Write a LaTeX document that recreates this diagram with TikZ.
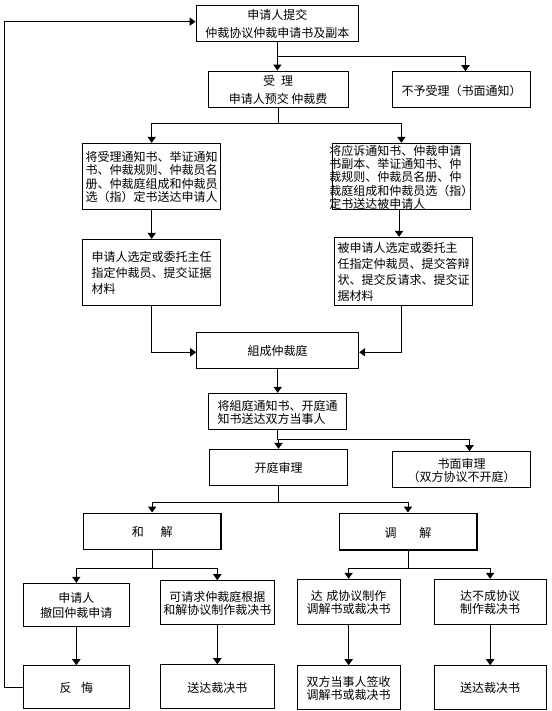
\documentclass[tikz,border=0pt]{standalone}
\usepackage{fontspec}
\newfontfamily\cjk{Noto Sans CJK SC}
\usetikzlibrary{arrows.meta,fit}
\begin{document}
\begin{tikzpicture}[x=0.75pt,y=-0.75pt,
  box/.style={draw, line width=0.75pt, fill=white, inner sep=0pt},
  boldbox/.style={box, line width=1.2pt},
  txt/.style={inner sep=0pt, align=center, yshift=-0.6pt, font=\cjk\fontsize{9}{13.5}\selectfont},
  tight/.style={font=\cjk\fontsize{9}{10}\selectfont},
  mid/.style={font=\cjk\fontsize{9}{12}\selectfont},
  arr/.style={line width=0.75pt, -{Triangle[length=4.5pt,width=6.2pt]}}]
\useasboundingbox[fill=white] (0,0) rectangle (551,711);

% boxes
\node[box, fit={(196,5.3) (358.7,41.7)}] (A) {};
\node[box, fit={(208.3,71) (348,107)}] (B) {};
\node[box, fit={(392.3,71.7) (530.7,107.7)}] (C) {};
\node[box, fit={(82.7,143.3) (220.7,209.3)}] (D) {};
\node[box, fit={(332.7,143.3) (470,209.3)}] (E) {};
\node[box, fit={(82.7,239.3) (220.7,305.3)}] (F) {};
\node[box, fit={(334.7,237.3) (472.3,305.3)}] (G) {};
\node[box, fit={(196.7,332.3) (358.7,368.3)}] (H) {};
\node[box, fit={(208.3,393.3) (346.7,429.3)}] (I) {};
\node[box, fit={(209.3,449.3) (347.7,485.3)}] (J) {};
\node[box, fit={(392.3,451.7) (530.7,487.7)}] (K) {};
\node[boldbox, fit={(83.3,513.3) (221,549.3)}] (L) {};
\node[boldbox, fit={(339.3,513.3) (476.7,550)}] (M) {};
\node[box, fit={(23.3,583.3) (129.3,626)}] (N) {};
\node[box, fit={(160.3,580.7) (274.3,624)}] (O) {};
\node[box, fit={(297.3,579.3) (400,624.3)}] (P) {};
\node[box, fit={(434.3,579.3) (546,624.3)}] (Q) {};
\node[box, fit={(23.3,665.7) (129.3,708.7)}] (R) {};
\node[box, fit={(160.3,664.7) (274.3,708.7)}] (S) {};
\node[box, fit={(297.3,665.7) (400,709.3)}] (T) {};
\node[box, fit={(434.3,665.7) (546,709.3)}] (U) {};

% texts
\node[txt] (At) at (A.center) {申请人提交\\仲裁协议仲裁申请书及副本};
\node[txt, font=\cjk\fontsize{9}{13}\selectfont] (Bt) at (B.center) {受\hspace{0.5em}理\\申请人预交 仲裁费};
\node[txt] (Ct) at (C.center) {不予受理（书面通知）};
\node[txt, tight, align=left] (Dt) at (D.center) {将受理通知书、举证通知\\书、仲裁规则、仲裁员名\\册、仲裁庭组成和仲裁员\\选（指）定书送达申请人};
\node[txt, tight, align=left] (Et) at (E.center) {将应诉通知书、仲裁申请\\书副本、举证通知书、仲\\裁规则、仲裁员名册、仲\\裁庭组成和仲裁员选（指）\\定书送达被申请人};
\node[txt, mid, align=left] (Ft) at (F.center) {申请人选定或委托主任\\指定仲裁员、提交证据\\材料};
\node[txt, mid, align=left] (Gt) at (G.center) {被申请人选定或委托主\\任指定仲裁员、提交答辩\\状、提交反请求、提交证\\据材料};
\node[txt] (Ht) at (H.center) {組成仲裁庭};
\node[txt, tight, align=left] (It) at (I.center) {将組庭通知书、开庭通\\知书送达双方当事人};
\node[txt] (Jt) at (J.center) {开庭审理};
\node[txt, tight] (Kt) at (K.center) {书面审理\\（双方协议不开庭）};
\node[txt] (Lt) at (L.center) {和\hspace{1.4em}解};
\node[txt] (Mt) at (M.center) {调\hspace{1.9em}解};
\node[txt, font=\cjk\fontsize{9}{11.5}\selectfont] (Nt) at (N.center) {申请人\\撤回仲裁申请};
\node[txt, tight] (Ot) at (O.center) {可请求仲裁庭根据\\和解协议制作裁决书};
\node[txt, tight] (Pt) at (P.center) {达\hspace{0.3em}成协议制作\\调解书或裁决书};
\node[txt, tight] (Qt) at (Q.center) {达不成协议\\制作裁决书};
\node[txt] (Rt) at (R.center) {反\hspace{0.8em}悔};
\node[txt] (St) at (S.center) {送达裁决书};
\node[txt, tight] (Tt) at (T.center) {双方当事人签收\\调解书或裁决书};
\node[txt] (Ut) at (U.center) {送达裁决书};

% connectors
\draw[arr] (A.south) -- (A.south |- B.north);
\draw[arr] (A.south) -- ++(0,14.3) -| ([xshift=3pt]C.north);
\draw[arr] (B.south) -- ++(0,16.3) -| (D.north);
\draw[arr] (B.south) -- ++(0,16.3) -| (E.north);
\draw[arr] (D.south) -- (F.north);
\draw[arr] ([xshift=-1.7pt]E.south) -- ([xshift=-1.7pt]E.south |- G.north);
\draw[arr] (F.south) |- ([yshift=-1.5pt]H.west);
\draw[arr] ([xshift=-1.7pt]G.south) |- ([yshift=-1.5pt]H.east);
\draw[arr] (H.south) -- (H.south |- I.north);
\draw[arr] (I.south) -- ++(0,10) -| (J.north);
\draw[arr] (I.south) -- ++(0,10) -| ([xshift=6pt]K.north);
\draw[arr] (J.south) -- ++(0,16.4) -| (L.north);
\draw[arr] (J.south) -- ++(0,16.4) -| (M.north);
\draw[arr] (L.south) -- ++(0,18.4) -| (N.north);
\draw[arr] (L.south) -- ++(0,18.4) -| (O.north);
\draw[arr] (M.south) -- ++(0,17.7) -| (P.north);
\draw[arr] (M.south) -- ++(0,17.7) -| (Q.north);
\draw[arr] (N.south) -- (N.south |- R.north);
\draw[arr] (O.south) -- (O.south |- S.north);
\draw[arr] (P.south) -- (P.south |- T.north);
\draw[arr] (Q.south) -- (Q.south |- U.north);
\draw[arr] (R.west) -- ++(-18.6,0) |- ([yshift=1.4pt]A.west);
\end{tikzpicture}
\end{document}
